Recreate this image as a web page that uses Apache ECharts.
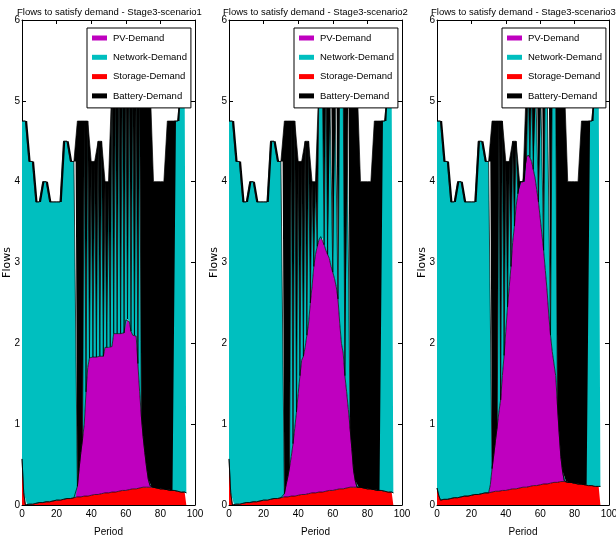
<!DOCTYPE html>
<html>
<head>
<meta charset="utf-8">
<script src="https://cdn.jsdelivr.net/npm/echarts@6/dist/echarts.min.js"></script>
<style>
  html, body { margin: 0; padding: 0; background: #fff; }
  #chart { width: 616px; height: 535px; }
</style>
</head>
<body>
<div id="chart"></div>
<script>
// demand profile, one value per period (0..95), same for all scenarios
const demand = [
  4.75, 4.75, 4.75, 4.75, 4.25, 4.25, 4.25, 4.25, 3.75, 3.75, 3.75, 3.75,
  4, 4, 4, 4, 3.75, 3.75, 3.75, 3.75, 3.75, 3.75, 3.75, 3.75,
  4.5, 4.5, 4.5, 4.5, 4.25, 4.25, 4.25, 4.25, 4.75, 4.75, 4.75, 4.75,
  4.75, 4.75, 4.75, 4.75, 4.25, 4.25, 4.25, 4.25, 4.5, 4.5, 4.5, 4.5,
  4, 4, 4, 4, 5.25, 5.25, 5.25, 5.25, 5.5, 5.5, 5.5, 5.5,
  5.5, 5.5, 5.5, 5.5, 5.25, 5.25, 5.25, 5.25, 5.25, 5.25, 5.25, 5.25,
  5.25, 5.25, 5.25, 5.25, 4, 4, 4, 4, 4, 4, 4, 4,
  4.75, 4.75, 4.75, 4.75, 4.75, 4.75, 4.75, 4.75, 5.25, 5.25, 5.25, 5.25
]

const storage1 = [
  0.57, 0.15, 0, 0, 0.01, 0.01, 0.01, 0.02, 0.02, 0.02, 0.03, 0.03,
  0.03, 0.03, 0.04, 0.04, 0.04, 0.05, 0.05, 0.05, 0.06, 0.06, 0.06, 0.07,
  0.07, 0.07, 0.08, 0.08, 0.08, 0.09, 0.09, 0.09, 0.10, 0.10, 0.10, 0.10,
  0.11, 0.11, 0.11, 0.12, 0.12, 0.12, 0.13, 0.13, 0.13, 0.14, 0.14, 0.14,
  0.15, 0.15, 0.15, 0.16, 0.16, 0.16, 0.16, 0.17, 0.17, 0.17, 0.18, 0.18,
  0.18, 0.19, 0.19, 0.19, 0.20, 0.20, 0.20, 0.21, 0.21, 0.21, 0.22, 0.22,
  0.22, 0.23, 0.22, 0.22, 0.22, 0.21, 0.21, 0.21, 0.20, 0.20, 0.20, 0.19,
  0.19, 0.19, 0.18, 0.18, 0.18, 0.17, 0.17, 0.17, 0.16, 0.16, 0.16, 0.15
]
const storage2 = [
  0.57, 0.15, 0, 0, 0.01, 0.01, 0.01, 0.02, 0.02, 0.02, 0.03, 0.03,
  0.03, 0.03, 0.04, 0.04, 0.04, 0.05, 0.05, 0.05, 0.06, 0.06, 0.06, 0.07,
  0.07, 0.07, 0.08, 0.08, 0.08, 0.09, 0.09, 0.09, 0.10, 0.10, 0.10, 0.10,
  0.11, 0.11, 0.11, 0.12, 0.12, 0.12, 0.13, 0.13, 0.13, 0.14, 0.14, 0.14,
  0.15, 0.15, 0.15, 0.16, 0.16, 0.16, 0.16, 0.17, 0.17, 0.17, 0.18, 0.18,
  0.18, 0.19, 0.19, 0.19, 0.20, 0.20, 0.20, 0.21, 0.21, 0.21, 0.22, 0.22,
  0.22, 0.23, 0.22, 0.22, 0.22, 0.21, 0.21, 0.21, 0.20, 0.20, 0.20, 0.19,
  0.19, 0.19, 0.18, 0.18, 0.18, 0.17, 0.17, 0.17, 0.16, 0.16, 0.16, 0.15
]
const storage3 = [
  0.21, 0.12, 0.06, 0.06, 0.07, 0.07, 0.07, 0.08, 0.08, 0.08, 0.09, 0.09,
  0.09, 0.10, 0.10, 0.10, 0.11, 0.11, 0.11, 0.12, 0.12, 0.12, 0.13, 0.13,
  0.13, 0.14, 0.14, 0.14, 0.15, 0.15, 0.15, 0.16, 0.16, 0.16, 0.17, 0.17,
  0.17, 0.17, 0.18, 0.18, 0.18, 0.19, 0.19, 0.19, 0.20, 0.20, 0.20, 0.21,
  0.21, 0.21, 0.22, 0.22, 0.22, 0.23, 0.23, 0.23, 0.24, 0.24, 0.24, 0.25,
  0.25, 0.25, 0.26, 0.26, 0.26, 0.27, 0.27, 0.27, 0.28, 0.28, 0.28, 0.28,
  0.29, 0.29, 0.29, 0.29, 0.28, 0.28, 0.28, 0.27, 0.27, 0.27, 0.26, 0.26,
  0.26, 0.25, 0.25, 0.25, 0.24, 0.24, 0.24, 0.24, 0.23, 0.23, 0.23, 0.23
]

const pv1 = [
  0, 0, 0, 0, 0, 0, 0, 0, 0, 0, 0, 0,
  0, 0, 0, 0, 0, 0, 0, 0, 0, 0, 0, 0,
  0, 0, 0, 0, 0, 0, 0, 0.01, 0.13, 0.35, 0.55, 0.72,
  0.89, 1.29, 1.59, 1.70, 1.71, 1.71, 1.70, 1.70, 1.70, 1.70, 1.70, 1.70,
  1.80, 1.80, 1.80, 1.80, 1.80, 1.96, 1.96, 1.95, 1.95, 1.95, 1.95, 1.95,
  2.11, 2.11, 2.08, 1.96, 1.90, 1.90, 1.89, 1.54, 1.19, 0.89, 0.63, 0.43,
  0.25, 0.09, 0.02, 0, 0, 0, 0, 0, 0, 0, 0, 0,
  0, 0, 0, 0, 0, 0, 0, 0, 0, 0, 0, 0
]
const pv2 = [
  0, 0, 0, 0, 0, 0, 0, 0, 0, 0, 0, 0,
  0, 0, 0, 0, 0, 0, 0, 0, 0, 0, 0, 0,
  0, 0, 0, 0, 0, 0, 0, 0, 0.04, 0.15, 0.25, 0.37,
  0.49, 0.65, 0.84, 1.03, 1.26, 1.48, 1.66, 1.71, 1.82, 1.96, 2.11, 2.36,
  2.55, 2.80, 2.95, 3.04, 3.12, 3.16, 3.14, 3.05, 2.98, 2.93, 2.87, 2.77,
  2.70, 2.61, 2.51, 2.36, 2.05, 1.80, 1.68, 1.39, 1.19, 0.97, 0.73, 0.48,
  0.21, 0.07, 0, 0, 0, 0, 0, 0, 0, 0, 0, 0,
  0, 0, 0, 0, 0, 0, 0, 0, 0, 0, 0, 0
]
const pv3 = [
  0, 0, 0, 0, 0, 0, 0, 0, 0, 0, 0, 0,
  0, 0, 0, 0, 0, 0, 0, 0, 0, 0, 0, 0,
  0, 0, 0, 0, 0, 0, 0, 0.09, 0.29, 0.46, 0.63, 0.80,
  0.98, 1.13, 1.42, 1.67, 1.97, 2.26, 2.51, 2.76, 3.05, 3.25, 3.50, 3.64,
  3.79, 3.79, 3.78, 3.78, 4.08, 4.10, 4.07, 4.02, 3.91, 3.81, 3.66, 3.50,
  3.30, 3.10, 2.89, 2.64, 2.39, 2.08, 1.83, 1.63, 1.47, 1.32, 0.97, 0.62,
  0.31, 0.13, 0.01, 0, 0, 0, 0, 0, 0, 0, 0, 0,
  0, 0, 0, 0, 0, 0, 0, 0, 0, 0, 0, 0
]

// which source covers the rest of the demand in each period (N = network, B = battery), grouped by hour
const supplier1 = 'NNNN NNNN NNNN NNNN NNNN NNNN NNNN NNNN BBBB NBNB NBNB NBNB NBNB NBNB NBNB NBNB NBNB NBBB BBBB BBBB BBBB BBBB NNNN NNNN'
const supplier2 = 'NNNN NNNN NNNN NNNN NNNN NNNN NNNN NNNN BBBB NBNB NBNB NBNB NBNB NNNB NBNN BNNB NNNB NNBB BBBB BBBB BBBB BBBB NNNN NNNN'
const supplier3 = 'NNNN NNNN NNNN NNNN NNNN NNNN NNNN NNNN BBBB NBNB NBNB NBNB BBBB BNBN BNNB NNBN NNBN NNBB BBBB BBBB BBBB BBBB NNNN NNNN'

const titles = ['Flows to satisfy demand - Stage3-scenario1', 'Flows to satisfy demand - Stage3-scenario2', 'Flows to satisfy demand - Stage3-scenario3']
const legendNames = ['PV-Demand', 'Network-Demand', 'Storage-Demand', 'Battery-Demand']
const xTicks = [0, 20, 40, 60, 80, 100]
const yTicks = [0, 1, 2, 3, 4, 5, 6]

const scenarios = [
  { storage: storage1, pv: pv1, supplier: supplier1 },
  { storage: storage2, pv: pv2, supplier: supplier2 },
  { storage: storage3, pv: pv3, supplier: supplier3 }
]

const colors = {
  'PV-Demand': '#bf00bf',
  'Network-Demand': '#00bfbf',
  'Storage-Demand': '#ff0000',
  'Battery-Demand': '#000000'
}
const font = "'Liberation Sans', Arial, sans-serif"
const gridLefts = [22, 229, 437]
const gridWidths = [173, 173, 172]
const legendLefts = [87, 294, 502]
const titleLefts = [17, 223, 431]

// period slots on the x axis, 0 .. last tick
const xCats = []
for (let p = xTicks[0]; p <= xTicks[xTicks.length - 1]; p++) xCats.push(String(p))
const tickStep = xTicks[1] - xTicks[0]
const showTick = i => i % tickStep === 0

const chart = echarts.init(document.getElementById('chart'))

const grids = [], xAxes = [], yAxes = [], series = [], legends = [], titleOpts = []
const tickStyle = { show: true, inside: true, length: 4, lineStyle: { color: '#000' } }
const lineAxis = { show: true, onZero: false, lineStyle: { color: '#000', width: 1 } }

scenarios.forEach((sc, g) => {
  grids.push({ left: gridLefts[g], top: 20, width: gridWidths[g], height: 485, outerBoundsMode: 'none', containLabel: false })

  xAxes.push({
    gridIndex: g,
    type: 'category',
    data: xCats,
    boundaryGap: false,
    axisLine: lineAxis,
    axisTick: { ...tickStyle, interval: showTick },
    splitLine: { show: false },
    name: 'Period', nameLocation: 'middle', nameGap: 22, nameMoveOverlap: false,
    nameTextStyle: { fontFamily: font, fontSize: 10, color: '#000' },
    axisLabel: { interval: showTick, margin: 4, fontFamily: font, fontSize: 10, color: '#000' }
  })
  yAxes.push({
    gridIndex: g,
    type: 'value',
    min: yTicks[0], max: yTicks[yTicks.length - 1], interval: yTicks[1] - yTicks[0],
    axisLine: lineAxis,
    axisTick: tickStyle,
    splitLine: { show: false },
    name: 'Flows', nameLocation: 'middle', nameGap: 9, nameMoveOverlap: false,
    nameTextStyle: { fontFamily: 'DejaVu Sans', fontSize: 11, color: '#000' },
    axisLabel: { margin: 2, fontFamily: font, fontSize: 10, color: '#000' }
  })

  const storage = sc.storage, pv = sc.pv
  const src = sc.supplier.replace(/ /g, '')
  const rest = demand.map((d, i) => Math.max(0, d - storage[i] - pv[i]))
  const values = {
    'Storage-Demand': storage,
    'PV-Demand': pv,
    'Network-Demand': rest.map((r, i) => src[i] === 'N' ? r : 0),
    'Battery-Demand': rest.map((r, i) => src[i] === 'B' ? r : 0)
  }
  // stacking order bottom to top
  ;['Storage-Demand', 'PV-Demand', 'Network-Demand', 'Battery-Demand'].forEach(name => {
    series.push({
      name,
      type: 'line',
      xAxisIndex: g,
      yAxisIndex: g,
      stack: 'flows' + g,
      symbol: 'none',
      smooth: false,
      itemStyle: { color: colors[name] },
      lineStyle: { color: '#000', width: 0.7 },
      areaStyle: { color: colors[name], opacity: 1 },
      emphasis: { disabled: true },
      data: values[name]
    })
  })

  legends.push({
    data: legendNames,
    orient: 'vertical',
    left: legendLefts[g],
    top: 28,
    z: 10,
    icon: 'rect',
    itemWidth: 15,
    itemHeight: 5,
    itemGap: 5.3,
    padding: [3, 4, 5, 5],
    backgroundColor: '#fff',
    borderColor: '#000',
    borderWidth: 1,
    selectedMode: false,
    itemStyle: { borderWidth: 0 },
    textStyle: { fontFamily: font, fontSize: 9.5, color: '#000', lineHeight: 14, padding: [0, 0, 0, 1] }
  })

  titleOpts.push({
    text: titles[g],
    left: titleLefts[g],
    top: 7,
    padding: 0,
    textStyle: { fontFamily: font, fontSize: 9.5, fontWeight: 'normal', color: '#000' }
  })
})

// ticks on the top and right edges as in the original frame
scenarios.forEach((sc, g) => {
  xAxes.push({
    gridIndex: g, type: 'category', position: 'top', data: xCats, boundaryGap: false,
    splitLine: { show: false }, axisLabel: { show: false },
    axisLine: lineAxis,
    axisTick: { ...tickStyle, interval: showTick }
  })
  yAxes.push({
    gridIndex: g, type: 'value', position: 'right',
    min: yTicks[0], max: yTicks[yTicks.length - 1], interval: yTicks[1] - yTicks[0],
    splitLine: { show: false }, axisLabel: { show: false },
    axisLine: lineAxis,
    axisTick: tickStyle
  })
})

chart.setOption({
  animation: false,
  backgroundColor: '#fff',
  title: titleOpts,
  legend: legends,
  grid: grids,
  xAxis: xAxes,
  yAxis: yAxes,
  series
})
</script>
</body>
</html>
